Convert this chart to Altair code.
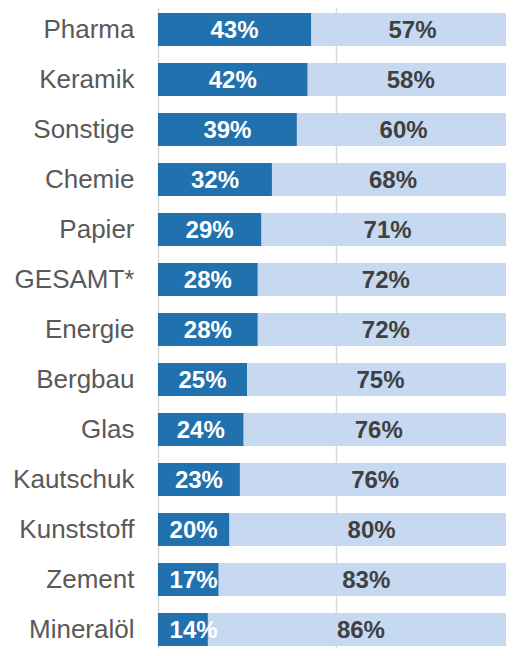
import altair as alt
import pandas as pd

categories = ["Pharma", "Keramik", "Sonstige", "Chemie", "Papier", "GESAMT*", "Energie",
              "Bergbau", "Glas", "Kautschuk", "Kunststoff", "Zement", "Mineralöl"]
dark_share = [43, 42, 39, 32, 29, 28, 28, 25, 24, 23, 20, 17, 14]
light_share = [57, 58, 60, 68, 71, 72, 72, 75, 76, 76, 80, 83, 86]

df = pd.DataFrame({"cat": categories, "dark": dark_share, "light": light_share})

DARK = "#2171ae"
LIGHT = "#c6d9f0"
FONT = "Liberation Sans"

y_enc = alt.Y("cat:N", sort=categories,
              scale=alt.Scale(range=[-3.5, 646.5], paddingInner=0.34, paddingOuter=0.17),
              axis=alt.Axis(title=None, ticks=False, domain=True, domainColor="#d9d9d9",
                            domainWidth=1.5, labelFont=FONT, labelFontSize=26,
                            labelColor="#595959", labelPadding=24, grid=False))

x_scale = alt.Scale(domain=[0, 100], range=[0, 356], nice=False, zero=True)
x_axis = alt.Axis(title=None, values=[50], labels=False, ticks=False, domain=False,
                  grid=True, gridColor="#d9d9d9", gridWidth=1.5)

base = alt.Chart(df)

dark_bar = base.mark_bar(color=DARK, clip=True).encode(
    x=alt.X("zero:Q", scale=x_scale, axis=x_axis),
    x2="dark:Q",
    y=y_enc,
).transform_calculate(zero="0")

light_bar = base.mark_bar(color=LIGHT, clip=True).encode(
    x=alt.X("dark:Q", scale=x_scale, axis=x_axis),
    x2="end:Q",
    y=y_enc,
).transform_calculate(end="datum.dark + datum.light")

dark_text = base.mark_text(font=FONT, fontSize=24, fontWeight="bold", color="white",
                           baseline="middle", dy=1).encode(
    x=alt.X("pos:Q", scale=x_scale, axis=x_axis),
    y=y_enc,
    text="lbl:N",
).transform_calculate(pos="max(datum.dark / 2, 10)", lbl="datum.dark + '%'")

light_text = base.mark_text(font=FONT, fontSize=24, fontWeight="bold", color="#404040",
                            baseline="middle", dy=1).encode(
    x=alt.X("pos:Q", scale=x_scale, axis=x_axis),
    y=y_enc,
    text="lbl:N",
).transform_calculate(pos="datum.dark + datum.light / 2", lbl="datum.light + '%'")

chart = alt.layer(light_bar, dark_bar, dark_text, light_text).properties(
    width=348, height=640,
    autosize=alt.AutoSizeParams(type="none"),
    padding={"left": 150, "top": 0, "right": 0, "bottom": 0},
).configure_view(stroke=None)

chart.save("out.html", embed_options={"renderer": "svg", "actions": False})
